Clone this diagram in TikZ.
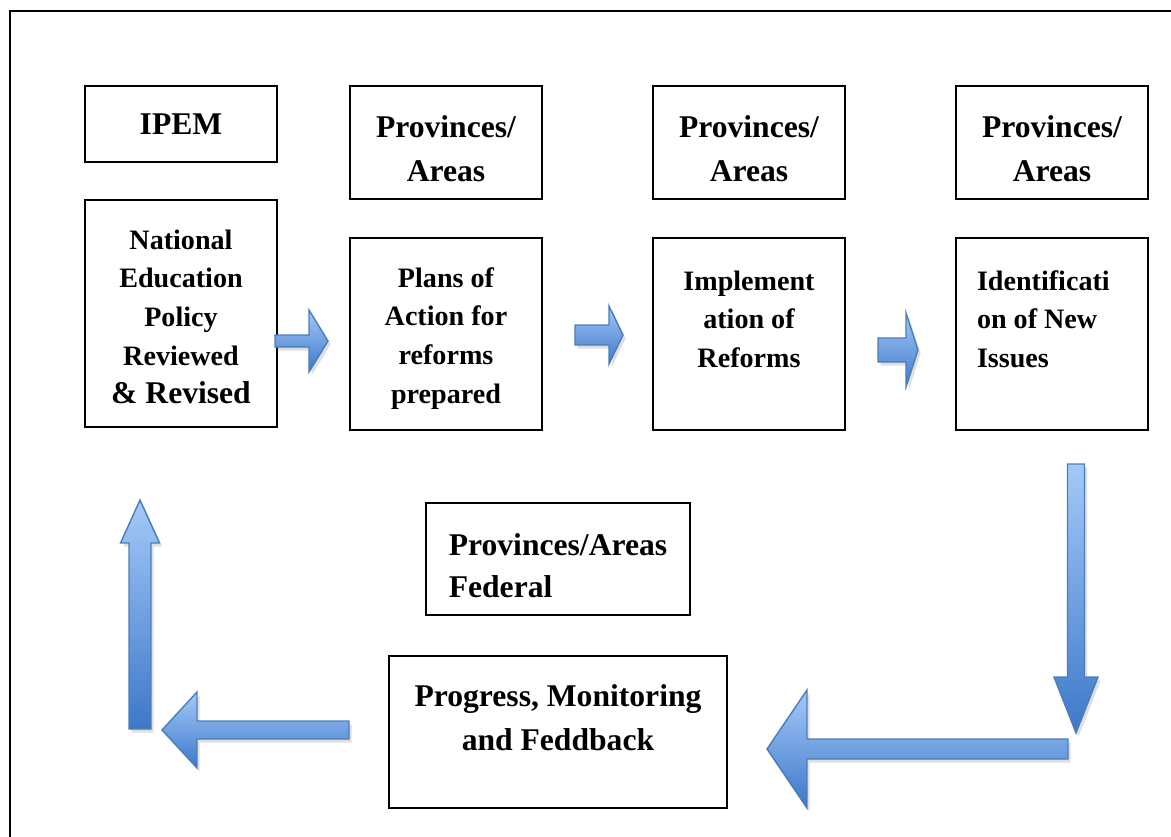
\documentclass[tikz,border=0pt]{standalone}
\usepackage{fontspec}
\setmainfont{Liberation Serif}
\usetikzlibrary{calc, shadows}

\definecolor{arrowlight}{HTML}{A4C9F8}
\definecolor{arrowdark}{HTML}{3D78C9}
\definecolor{arrowline}{HTML}{4A7EBB}

% block arrow: from, to, half shaft, half head, head length
\newcommand{\blockarrow}[5]{%
  \coordinate (ahb) at ($(#2)!#5!(#1)$);
  \path[blockarrow] ($(#1)!#3!90:(#2)$) -- ($(ahb)!#3!90:(#2)$)
    -- ($(ahb)!#4!90:(#2)$) -- (#2) -- ($(ahb)!#4!-90:(#2)$)
    -- ($(ahb)!#3!-90:(#2)$) -- ($(#1)!#3!-90:(#2)$) -- cycle;
}
\newcommand{\topstrut}{\rule{0pt}{20pt}}

\tikzset{
  box/.style={draw, line width=1.1pt, minimum width=3.84cm, align=center, inner sep=2pt,
    font=\fontsize{16}{22}\selectfont\bfseries},
  headbox/.style={box, minimum height=2.26cm, font=\fontsize{18}{25}\selectfont\bfseries},
  bodybox/.style={box, minimum height=3.84cm},
  blockarrow/.style={draw=arrowline, line width=0.8pt, line join=miter,
    top color=arrowlight, bottom color=arrowdark,
    drop shadow={opacity=0.25, shadow xshift=1.5pt, shadow yshift=-2pt}}
}

\begin{document}
\begin{tikzpicture}[x=0.02cm, y=-0.02cm]
    \clip (0,0) rectangle (1171,836);
    \fill[white] (0,0) rectangle (1171,836);
    \draw[line width=1.2pt] (10,900) -- (10,11) -- (1200,11);

    % top row
    \node[headbox, minimum height=1.52cm] (ipem) at (181,124) {IPEM};
    \node[headbox] (prova) at (446,142.5) {\topstrut Provinces/\\Areas};
    \node[headbox] (provb) at (749,142.5) {\topstrut Provinces/\\Areas};
    \node[headbox] (provc) at (1052,142.5) {\topstrut Provinces/\\Areas};

    % steps
    \node[box, minimum height=4.54cm] (policy) at (181,313.5)
        {\rule{0pt}{15pt}National\\Education\\Policy\\Reviewed\\{\fontsize{18}{23}\selectfont \& Revised}};
    \node[bodybox] (plans) at (446,334) {\rule{0pt}{16pt}Plans of\\Action for\\reforms\\prepared};
    \node[bodybox] (impl) at (749,334) {\rule{0pt}{16pt}Implement\\ation of\\Reforms\\\mbox{}};
    \node[bodybox, text width=3.0cm, align=flush left] (issues) at (1052,334)
        {\rule{0pt}{16pt}Identificati\\on of New\\Issues\\\mbox{}};

    \node[box, minimum width=5.28cm, minimum height=2.24cm, align=left,
        font=\fontsize{18}{24}\selectfont\bfseries] (federal) at (558,559)
        {\topstrut Provinces/Areas\\Federal};
    \node[box, minimum width=6.76cm, minimum height=3.04cm,
        font=\fontsize{18}{25}\selectfont\bfseries] (progress) at (558,732)
        {Progress, Monitoring\\and Feddback\\[-9pt]\mbox{}};

    % arrows
    \coordinate (a1s) at (275,341); \coordinate (a1e) at (328,341);
    \coordinate (a2s) at (575,335); \coordinate (a2e) at (623,335);
    \coordinate (a3s) at (878,350); \coordinate (a3e) at (918,350);
    \coordinate (a4s) at (1076,464); \coordinate (a4e) at (1076,733);
    \coordinate (a5s) at (1068,749); \coordinate (a5e) at (767,749);
    \coordinate (a6s) at (349,730); \coordinate (a6e) at (162,730);
    \coordinate (a7s) at (140,729); \coordinate (a7e) at (140,500);

    \blockarrow{a1s}{a1e}{0.12cm}{0.62cm}{0.38cm}
    \blockarrow{a2s}{a2e}{0.2cm}{0.58cm}{0.28cm}
    \blockarrow{a3s}{a3e}{0.24cm}{0.74cm}{0.24cm}
    \blockarrow{a4s}{a4e}{0.17cm}{0.44cm}{1.12cm}
    \blockarrow{a5s}{a5e}{0.2cm}{1.18cm}{0.8cm}
    \blockarrow{a6s}{a6e}{0.18cm}{0.76cm}{0.7cm}
    \blockarrow{a7s}{a7e}{0.22cm}{0.39cm}{0.86cm}
\end{tikzpicture}
\end{document}
